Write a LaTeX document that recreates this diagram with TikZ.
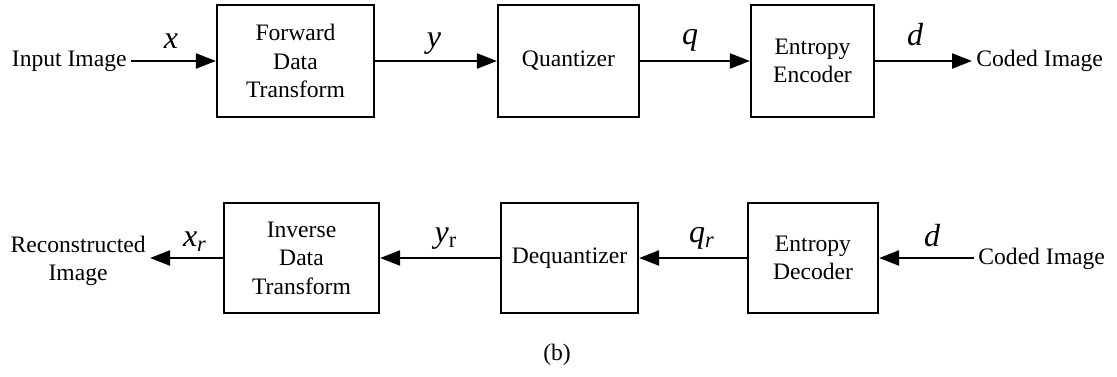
\documentclass[tikz,border=0pt]{standalone}
\usepackage{fontspec}
\setmainfont{Liberation Serif}
\usetikzlibrary{arrows.meta,positioning}

\begin{document}
\begin{tikzpicture}[x=0.5pt,y=-0.5pt,
    blok/.style={draw, line width=1.1pt, align=center, inner sep=0pt,
      font=\fontsize{11.8}{14.2}\selectfont},
    lbl/.style={font=\fontsize{11.8}{14.2}\selectfont, inner sep=2pt, align=center},
    sig/.style={font=\fontsize{16}{18}\selectfont\itshape, anchor=base, inner sep=0pt},
    flow/.style={line width=1.1pt, -{Triangle[length=10pt,width=7.5pt]}}]

  \useasboundingbox (0,0) rectangle (1117,376);

  % Encoder chain
  \foreach \nm/\cx/\bw/\txt in {fwd/295.5/78.5pt/{Forward\\Data\\Transform},
      quant/568.5/70.5pt/{Quantizer}, enc/812.5/61.5pt/{Entropy\\Encoder}} {
    \node[blok, minimum width=\bw, minimum height=56pt] (\nm) at (\cx,61) {\txt};
  }

  % Decoder chain
  \foreach \nm/\cx/\bw/\txt in {inv/301.5/77.5pt/{Inverse\\Data\\Transform},
      dequant/569.5/68.5pt/{Dequantizer}, dec/813/65pt/{Entropy\\Decoder}} {
    \node[blok, minimum width=\bw, minimum height=55pt] (\nm) at (\cx,258) {\txt};
  }

  % In and out texts
  \node[lbl, anchor=east] (inimg) at (131,61) {Input Image};
  \node[lbl, anchor=west] (cout) at (972,61) {Coded Image};
  \node[lbl, anchor=west] (cin) at (974,259) {Coded Image};
  \node[lbl, anchor=east] (rec) at (150,261) {Reconstructed\\Image};

  % Connectors
  \draw[flow] (inimg.east) -- (fwd.west);
  \draw[flow] (fwd) -- (quant);
  \draw[flow] (quant) -- (enc);
  \draw[flow] (enc.east) -- (cout.west);
  \draw[flow] (cin.west |- dec.east) -- (dec.east);
  \draw[flow] (dec) -- (dequant);
  \draw[flow] (dequant) -- (inv);
  \draw[flow] (inv.west) -- (rec.east |- inv.west);

  % Signal names
  \node[sig] (sx) at (171,48) {x};
  \node[sig] (sy) at (434,47) {y};
  \node[sig] (sq) at (690,44) {q};
  \node[sig] (sd) at (915,45) {d};
  \node[sig] (sxr) at (195,246) {x\textsubscript{r}};
  \node[sig] (syr) at (446,242) {y\textsubscript{\upshape r}};
  \node[sig] (sqr) at (702,242) {q\textsubscript{r}};
  \node[sig] (sdd) at (932,246) {d};

  \node[lbl] (cap) at (557,355) {(b)};
\end{tikzpicture}
\end{document}
